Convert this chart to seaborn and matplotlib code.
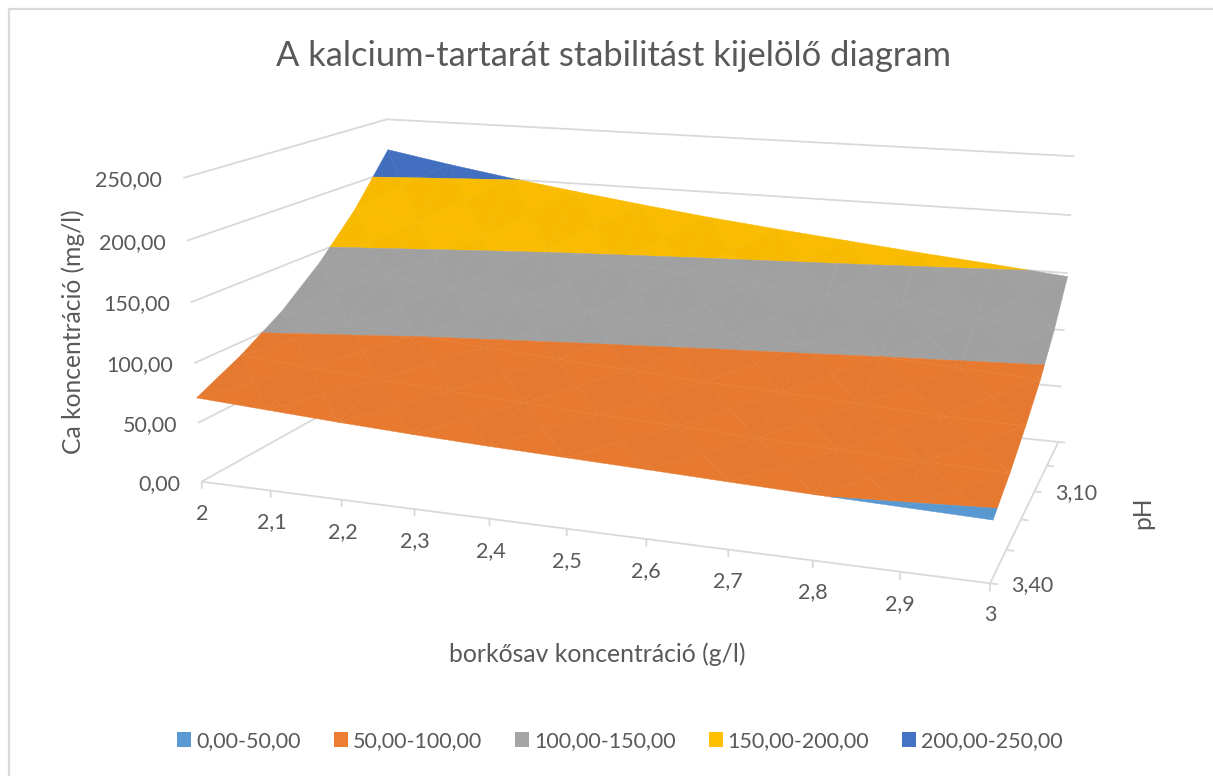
import numpy as np
import matplotlib
matplotlib.use("Agg")
import matplotlib.pyplot as plt
import seaborn as sns
from matplotlib.lines import Line2D
from matplotlib.patches import Patch
from mpl_toolkits.mplot3d import proj3d
from mpl_toolkits.mplot3d.art3d import Poly3DCollection

# Data
tartaric = [2.0, 2.1, 2.2, 2.3, 2.4, 2.5, 2.6, 2.7, 2.8, 2.9, 3.0]
tartaric_labels = ["2", "2,1", "2,2", "2,3", "2,4", "2,5", "2,6", "2,7", "2,8", "2,9", "3"]
ph_levels = [3.40, 3.30, 3.20, 3.10, 3.00, 2.90]
ph_labels = {3.40: "3,40", 3.10: "3,10"}
ca_ph340 = [71, 67.5, 64, 61, 58.5, 56.5, 54.5, 52.3, 50.3, 48.7, 47]
ca_ph330 = [89, 84.5, 80.5, 77, 73.5, 70.5, 68, 65.5, 63, 61, 59.5]
ca_ph320 = [111, 105.5, 100.5, 96, 92, 88.5, 85, 82.5, 79.5, 76.5, 75]
ca_ph310 = [140, 133, 126, 120, 115, 111, 107, 103.5, 100, 96.5, 93]
ca_ph300 = [176, 167, 159, 152, 145.5, 139.5, 135, 130.5, 126, 121.5, 117]
ca_ph290 = [221, 210.5, 201, 192.5, 184.5, 177, 170.5, 164.5, 158.5, 153, 147]
band_edges = [0, 50, 100, 150, 200, 250]
band_labels = ["0,00-50,00", "50,00-100,00", "100,00-150,00", "150,00-200,00", "200,00-250,00"]
z_ticks = [0, 50, 100, 150, 200, 250]
z_labels = ["0,00", "50,00", "100,00", "150,00", "200,00", "250,00"]

TEXT = "#595959"
GRID = "#D9D9D9"
W, H = 1213, 776

sns.set_theme(style="white")
plt.rcParams["font.family"] = ["Lato", "DejaVu Sans"]
palette = sns.color_palette(["#5B9BD5", "#ED7D31", "#A5A5A5", "#FFC000", "#4472C4"])

fig = plt.figure(figsize=(W / 100, H / 100), dpi=100, facecolor="white")
side = 1400
cx, cy = 624.74, 440.26
ax = fig.add_axes([(cx - side / 2) / W, (cy - side / 2) / H, side / W, side / H],
                  projection="3d", computed_zorder=False)
ax.set_axis_off()
ax.set_xlim(2, 3, view_margin=0)
ax.set_ylim(3.4, 2.9, view_margin=0)
ax.set_zlim(0, 250, view_margin=0)
ax.view_init(14.075, -70.13, 0.0067)
ax.set_proj_type("persp", focal_length=0.2498)
ax.set_box_aspect((1, 0.5354, 0.3903), zoom=0.6467)
ax.apply_aspect()

x_front, x_back = tartaric[0], tartaric[-1]
y_front, y_back = ph_levels[0], ph_levels[-1]

# Walls and floor edges
line_kw = dict(color=GRID, lw=1.3, solid_capstyle="butt", zorder=1)
for z in z_ticks:
    ax.plot([x_front, x_front, x_back], [y_front, y_back, y_back], [z, z, z], **line_kw)
ax.plot([x_front, x_back, x_back], [y_front, y_front, y_back], [0, 0, 0], **line_kw)
for x in tartaric:
    ax.plot([x, x], [y_front, y_front], [0, -6], **line_kw)
for y in ph_levels:
    ax.plot([x_back, x_back + 0.009], [y, y], [0, 0], **line_kw)


def clip_band(poly, lo, hi):
    """Cut a 3D polygon down to the part with lo <= z <= hi."""
    def cut(pts, level, keep_above):
        out = []
        for a, b in zip(pts, pts[1:] + pts[:1]):
            ina = (a[2] >= level) == keep_above
            inb = (b[2] >= level) == keep_above
            if ina:
                out.append(a)
            if ina != inb:
                t = (level - a[2]) / (b[2] - a[2])
                out.append(tuple(np.add(a, np.multiply(t, np.subtract(b, a)))))
        return out
    pts = cut(list(poly), lo, True)
    return cut(pts, hi, False) if pts else []


# Surface: each cell is split into four facets around its centre, then cut into bands
ca = np.array([ca_ph340, ca_ph330, ca_ph320, ca_ph310, ca_ph300, ca_ph290], float)
polys, faces = [], []
for i in range(len(ph_levels) - 1):
    for j in range(len(tartaric) - 1):
        corners = [(tartaric[j], ph_levels[i], ca[i, j]),
                   (tartaric[j + 1], ph_levels[i], ca[i, j + 1]),
                   (tartaric[j + 1], ph_levels[i + 1], ca[i + 1, j + 1]),
                   (tartaric[j], ph_levels[i + 1], ca[i + 1, j])]
        centre = tuple(np.mean(corners, axis=0))
        for k in range(4):
            tri = [corners[k], corners[(k + 1) % 4], centre]
            shade = 0.978 if k % 2 == 0 else 0.968
            for b in range(len(band_labels)):
                piece = clip_band(tri, band_edges[b], band_edges[b + 1])
                if len(piece) >= 3:
                    polys.append(piece)
                    faces.append(tuple(shade * c for c in palette[b]))
surface = Poly3DCollection(polys, facecolors=faces, edgecolors=faces, linewidths=0.3, zorder=3)
ax.add_collection3d(surface)


def label_at(x, y, z, text, dx=0, dy=0, **kw):
    """Write a figure-level label next to a point of the 3D box, offset in pixels."""
    u, v, _ = proj3d.proj_transform(x, y, z, ax.get_proj())
    px, py = ax.transData.transform((u, v))
    fig.text((px + dx) / W, (py + dy) / H, text, va="center", color=TEXT, fontsize=15.5, **kw)


# Tick labels
for z, lab in zip(z_ticks, z_labels):
    label_at(x_front, y_front, z, lab, dx=-21, dy=-2, ha="right")
for x, lab in zip(tartaric, tartaric_labels):
    label_at(x, y_front, 0, lab, dx=1 if x < 2.5 else 0, dy=-32, ha="center")
for y, lab in ph_labels.items():
    label_at(x_back, y, 0, lab, dx=21, dy=-2, ha="left")

# Chart frame, title and axis titles
fig.add_artist(Line2D([8.5 / W, 8.5 / W, 1], [0, 1 - 9 / H, 1 - 9 / H], color=GRID, lw=1.6))
fig.text(613 / W, 1 - 56 / H, "A kalcium-tartarát stabilitást kijelölő diagram",
         ha="center", va="center", color=TEXT, fontsize=24.8)
fig.text(73 / W, 1 - 331.5 / H, "Ca koncentráció (mg/l)", rotation=90,
         ha="center", va="center", color=TEXT, fontsize=17.7)
fig.text(597 / W, 1 - 654 / H, "borkősav koncentráció (g/l)",
         ha="center", va="center", color=TEXT, fontsize=17.8)
fig.text(1143 / W, 1 - 513 / H, "pH", rotation=90,
         ha="center", va="center", color=TEXT, fontsize=17.7)

# Legend
font_px = 15.5 * 100 / 72
handles = [Patch(facecolor=c, edgecolor="none", label=l) for c, l in zip(palette, band_labels)]
fig.legend(handles=handles, ncol=5, loc="center", bbox_to_anchor=(620 / W, 1 - 741 / H),
           frameon=False, fontsize=15.5, labelcolor=TEXT, handlelength=14 / font_px,
           handleheight=14 / font_px, handletextpad=5 / font_px, columnspacing=33 / font_px)

fig.savefig("out.png", dpi=100)
